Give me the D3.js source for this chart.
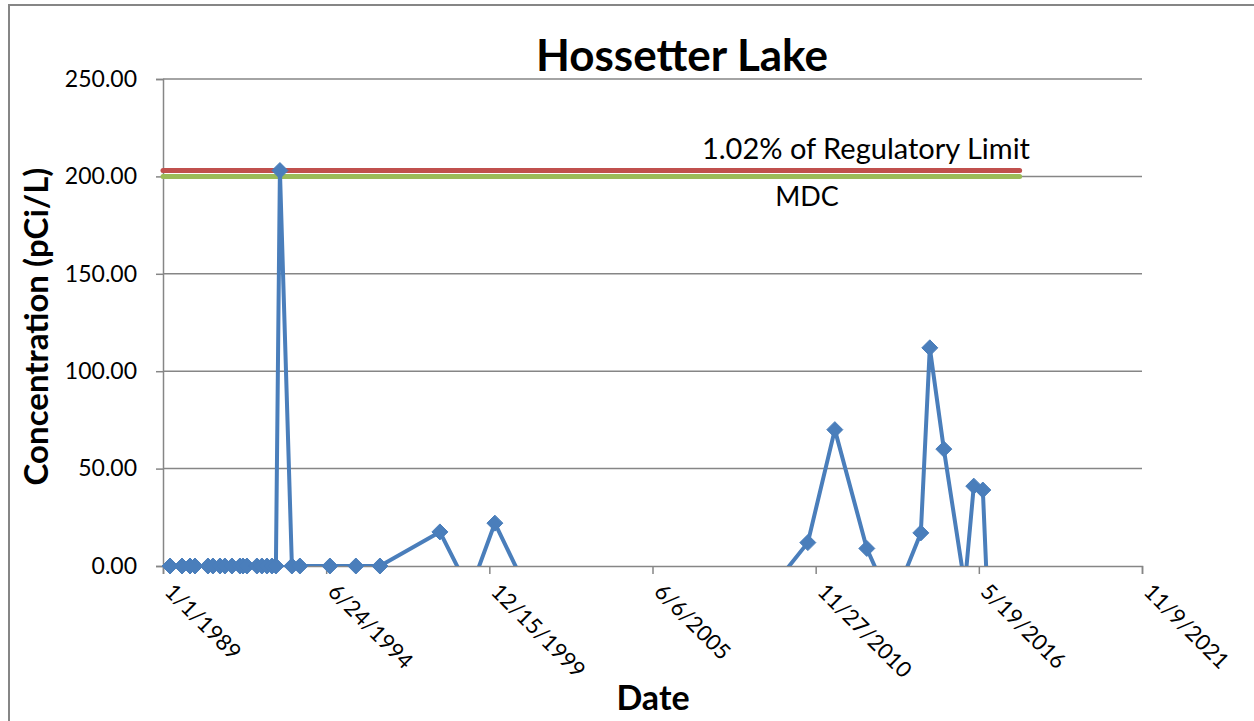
<!DOCTYPE html>
<html>
<head>
<meta charset="utf-8">
<script src="https://cdn.jsdelivr.net/npm/d3@7"></script>
<style>
  body { margin: 0; background: #fff; }
  text { font-family: Lato, "Open Sans", sans-serif; fill: #000; }
</style>
</head>
<body>
<svg id="chart" width="1254" height="721"></svg>
<script>
// sample dates and concentrations (pCi/L), negatives fall under the axis and get clipped
var sampleDates = ["1989-03-28","1989-08-22","1989-11-28","1990-01-28","1990-07-06","1990-09-05",
  "1990-11-30","1991-01-30","1991-04-26","1991-08-02","1991-09-08","1991-10-27","1992-02-26",
  "1992-04-27","1992-06-28","1992-08-28","1992-10-16","1992-12-04","1993-04-30","1993-08-06",
  "1994-08-09","1995-06-23","1996-04-13","1998-04-18","1999-04-21","2000-02-21","2001-02-23",
  "2009-09-14","2010-08-23","2011-07-20","2012-08-15","2013-01-21","2013-09-23","2014-06-08",
  "2014-09-26","2015-03-17","2015-11-29","2016-03-18","2016-07-07","2016-09-06"]
var concentration = [0,0,0,0,0,0,
  0,0,0,0,0,0,0,
  0,0,0,0,203,0,0,
  0,0,0,17.5,-13,22,-10,
  -6,12,70,9,-6,-10,17,
  112,60,-10,41,39,-20]

var limitDates = ["1989-01-01","2017-10-01"]
var regLimit = 203   // 1.02% of regulatory limit
var mdc = 200

var yTicks = [0,50,100,150,200,250]
var xTickDates = ["1989-01-01","1994-06-24","1999-12-15","2005-06-06","2010-11-27","2016-05-19","2021-11-09"]

var parse = d3.timeParse("%Y-%m-%d")
var data = sampleDates.map(function(d,i){ return {date: parse(d), value: concentration[i]} })

var svg = d3.select("#chart")
var plotLeft = 163, plotRight = 1142, plotTop = 79, plotBottom = 566

var x = d3.scaleTime().domain([parse(xTickDates[0]), parse(xTickDates[xTickDates.length-1])]).range([plotLeft, plotRight])
var y = d3.scaleLinear().domain([0,250]).range([plotBottom, plotTop])

var gray = "#868686"

// outer chart border
svg.append("rect").attr("x",9).attr("y",5).attr("width",1300).attr("height",800)
  .attr("fill","none").attr("stroke",gray).attr("stroke-width",2)

// gridlines
svg.append("g").selectAll("line").data(yTicks.filter(function(d){return d>0})).enter()
  .append("line")
  .attr("x1",plotLeft).attr("x2",plotRight)
  .attr("y1",function(d){return y(d)}).attr("y2",function(d){return y(d)})
  .attr("stroke",gray).attr("stroke-width",1.5)

// y axis
var yAxis = svg.append("g").attr("transform","translate("+plotLeft+",0)")
  .call(d3.axisLeft(y).tickValues(yTicks).tickFormat(d3.format(".2f")).tickSizeOuter(0).tickSize(7).tickPadding(19))
yAxis.selectAll("path, line").attr("stroke",gray).attr("stroke-width",1.5)
yAxis.selectAll("text").style("font-size","23px").style("font-family","Lato, sans-serif").attr("fill","#000")

// x axis
var fmt = function(d){ return (d.getMonth()+1)+"/"+d.getDate()+"/"+d.getFullYear() }
var xAxis = svg.append("g").attr("transform","translate(0,"+plotBottom+")")
  .call(d3.axisBottom(x).tickValues(xTickDates.map(parse)).tickFormat(fmt).tickSizeOuter(0).tickSize(8))
xAxis.selectAll("path, line").attr("stroke",gray).attr("stroke-width",1.5)
xAxis.selectAll("text")
  .style("font-size","22px").style("font-family","Lato, sans-serif").attr("fill","#000")
  .attr("text-anchor","start").attr("dy",null).attr("y",0)
  .attr("transform","translate(0,27) rotate(45)")

// limit lines
var limLine = d3.line().x(function(d){return x(d.date)}).y(function(d){return y(d.value)})
svg.append("path")
  .datum(limitDates.map(function(d){return {date: parse(d), value: mdc}}))
  .attr("d",limLine).attr("fill","none").attr("stroke","#9BBB59").attr("stroke-width",5).attr("stroke-linecap","round")
svg.append("path")
  .datum(limitDates.map(function(d){return {date: parse(d), value: regLimit}}))
  .attr("d",limLine).attr("fill","none").attr("stroke","#C0504D").attr("stroke-width",5).attr("stroke-linecap","round")

// data series, clipped to plot area
svg.append("clipPath").attr("id","plotClip").append("rect")
  .attr("x",plotLeft).attr("y",0).attr("width",plotRight-plotLeft).attr("height",plotBottom)

var blue = "#4A7EBB"
svg.append("path").datum(data)
  .attr("clip-path","url(#plotClip)")
  .attr("d", d3.line().x(function(d){return x(d.date)}).y(function(d){return y(d.value)}))
  .attr("fill","none").attr("stroke",blue).attr("stroke-width",4).attr("stroke-linejoin","round")

svg.append("g").selectAll("path").data(data.filter(function(d){return d.value>=0})).enter()
  .append("path")
  .attr("d","M0,-8L8,0L0,8L-8,0Z")
  .attr("transform",function(d){return "translate("+x(d.date)+","+y(d.value)+")"})
  .attr("fill",blue).attr("stroke",blue).attr("stroke-width",1)

// labels
svg.append("text").attr("x",682).attr("y",71).attr("text-anchor","middle")
  .style("font-size","44px").style("font-weight","bold").text("Hossetter Lake")
svg.append("text").attr("x",1030).attr("y",159).attr("text-anchor","end")
  .style("font-size","29px").text("1.02% of Regulatory Limit")
svg.append("text").attr("x",807).attr("y",206).attr("text-anchor","middle")
  .style("font-size","27px").text("MDC")
svg.append("text").attr("transform","translate(48,"+((plotTop+plotBottom)/2 + 4)+") rotate(-90)").attr("text-anchor","middle")
  .style("font-size","33px").style("font-weight","bold").text("Concentration (pCi/L)")
svg.append("text").attr("x",653).attr("y",710).attr("text-anchor","middle")
  .style("font-size","34px").style("font-weight","bold").text("Date")
</script>
</body>
</html>
